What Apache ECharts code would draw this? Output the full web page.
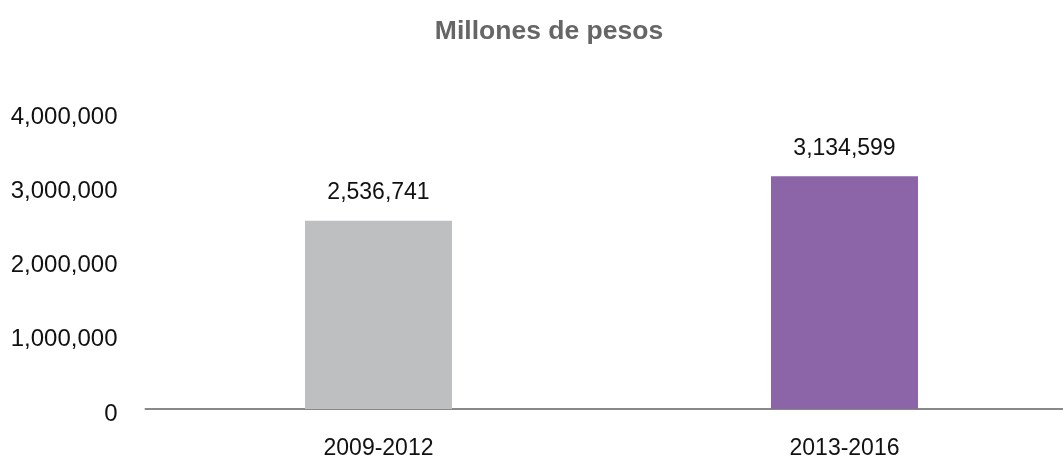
<!DOCTYPE html>
<html><head><meta charset="utf-8">
<script src="https://cdn.jsdelivr.net/npm/echarts@6/dist/echarts.min.js"></script>
<style>html,body{margin:0;padding:0;background:#fff}#c{width:1063px;height:461px}</style>
</head><body><div id="c"></div>
<script>
const categories = ['2009-2012', '2013-2016'];
const values = [2536741, 3134599];
const barColors = ['#BEBFC1', '#8C64A8'];
const titleText = 'Millones de pesos';
const FONT = '"Liberation Sans", Arial, Helvetica, sans-serif';
const fmt = v => Math.round(v).toString().replace(/\B(?=(\d{3})+(?!\d))/g, ',');
const chart = echarts.init(document.getElementById('c'), null, {renderer: 'canvas'});
chart.setOption({
  animation: false,
  backgroundColor: '#fff',
  title: {text: titleText, left: 544, top: 13, textAlign: 'center',
    textStyle: {fontFamily: FONT, fontSize: 26.5, fontWeight: 'bold', color: '#666666'}},
  grid: {left: 145.5, right: -14.5, top: 112, bottom: 52, containLabel: false, outerBoundsMode: 'none'},
  xAxis: {type: 'category', data: categories,
    axisLine: {lineStyle: {color: '#888888', width: 2}},
    axisTick: {show: false},
    axisLabel: {fontFamily: FONT, fontSize: 23, color: '#111', margin: 28}},
  yAxis: {type: 'value', min: 0, max: 4000000, interval: 1000000,
    splitLine: {show: false}, axisLine: {show: false}, axisTick: {show: false},
    axisLabel: {margin: 28, formatter: v => '{a|' + fmt(v) + '}',
      rich: {a: {fontFamily: FONT, fontSize: 24, color: '#111', padding: [10, 0, 0, 0]}}}},
  series: [{type: 'bar', barWidth: 147,
    data: values.map((v, i) => ({value: v, itemStyle: {color: barColors[i]}})),
    label: {show: true, position: 'top', distance: 16, fontFamily: FONT, fontSize: 23, color: '#111',
      formatter: p => fmt(p.value)}}]
});
</script></body></html>
